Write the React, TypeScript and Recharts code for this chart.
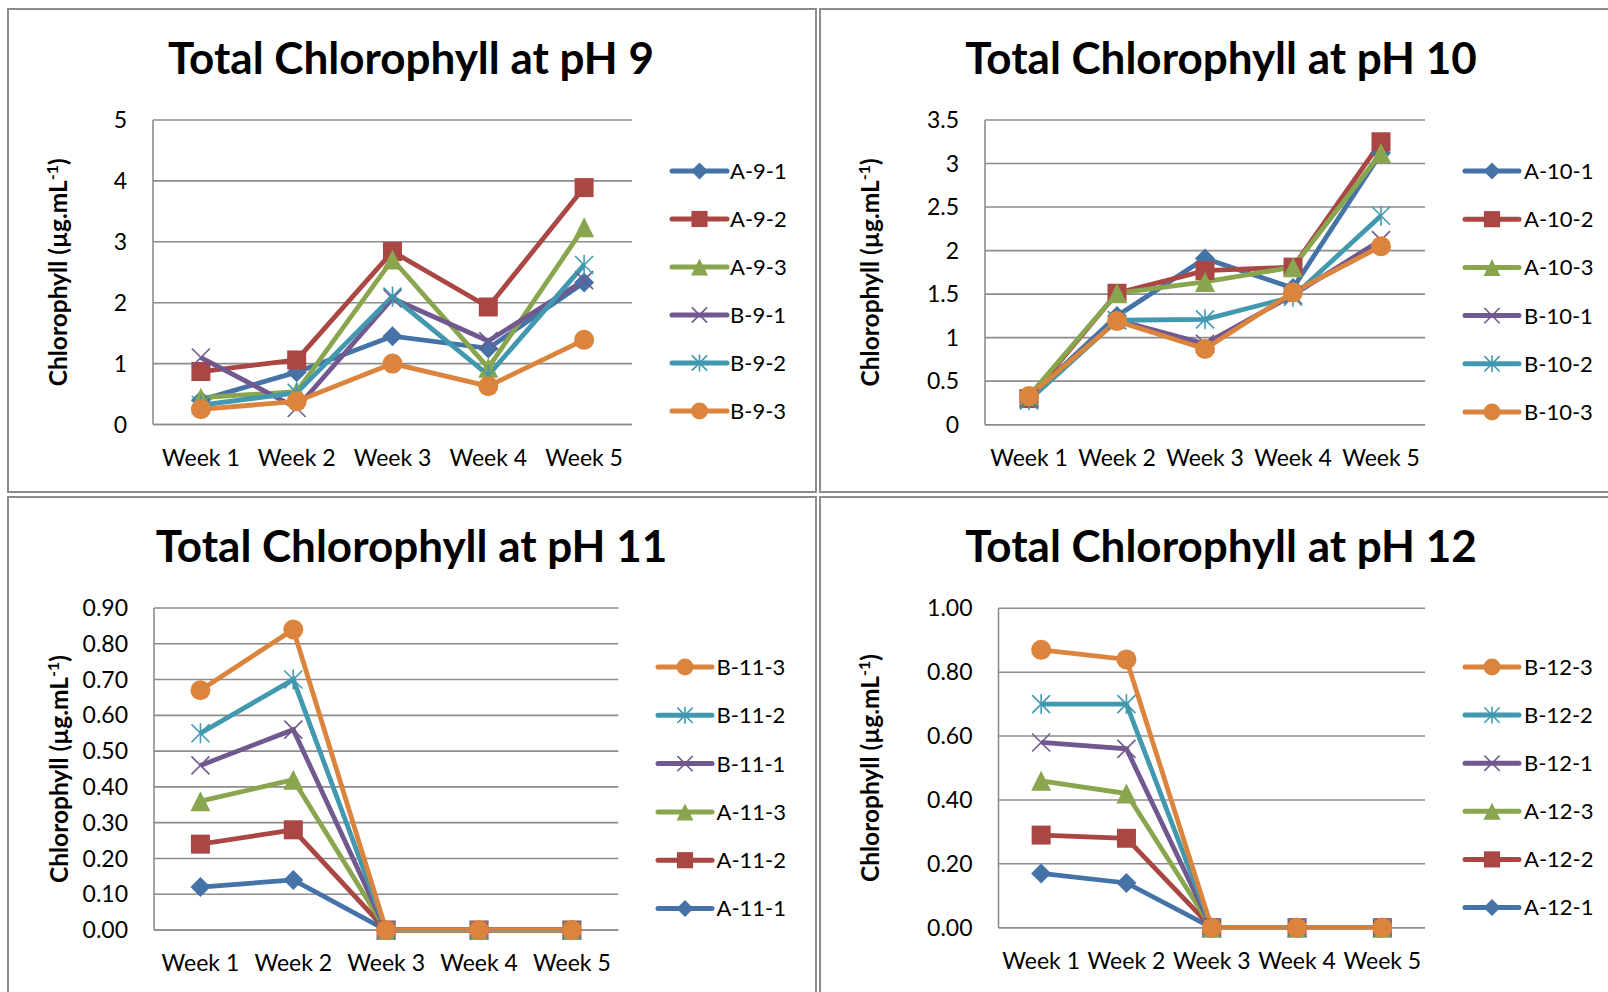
import React from 'react';
import { LineChart, Line, XAxis, YAxis, CartesianGrid, Legend } from 'recharts';

const WEEKS = ['Week 1', 'Week 2', 'Week 3', 'Week 4', 'Week 5'];

// pH 9
const A_9_1 = [0.40, 0.86, 1.45, 1.25, 2.33];
const A_9_2 = [0.87, 1.06, 2.84, 1.93, 3.89];
const A_9_3 = [0.44, 0.54, 2.71, 0.93, 3.24];
const B_9_1 = [1.10, 0.27, 2.07, 1.37, 2.37];
const B_9_2 = [0.32, 0.52, 2.10, 0.81, 2.62];
const B_9_3 = [0.25, 0.38, 1.00, 0.63, 1.39];

// pH 10
const A_10_1 = [0.31, 1.25, 1.91, 1.57, 3.12];
const A_10_2 = [0.30, 1.51, 1.77, 1.81, 3.25];
const A_10_3 = [0.33, 1.51, 1.64, 1.81, 3.12];
const B_10_1 = [0.30, 1.20, 0.93, 1.49, 2.12];
const B_10_2 = [0.28, 1.20, 1.21, 1.47, 2.40];
const B_10_3 = [0.33, 1.19, 0.87, 1.52, 2.05];

// pH 11
const A_11_1 = [0.12, 0.14, 0, 0, 0];
const A_11_2 = [0.24, 0.28, 0, 0, 0];
const A_11_3 = [0.36, 0.42, 0, 0, 0];
const B_11_1 = [0.46, 0.56, 0, 0, 0];
const B_11_2 = [0.55, 0.70, 0, 0, 0];
const B_11_3 = [0.67, 0.84, 0, 0, 0];

// pH 12
const A_12_1 = [0.17, 0.14, 0, 0, 0];
const A_12_2 = [0.29, 0.28, 0, 0, 0];
const A_12_3 = [0.46, 0.42, 0, 0, 0];
const B_12_1 = [0.58, 0.56, 0, 0, 0];
const B_12_2 = [0.70, 0.70, 0, 0, 0];
const B_12_3 = [0.87, 0.84, 0, 0, 0];

const Y_TICKS_9 = [0, 1, 2, 3, 4, 5];
const Y_TICKS_10 = [0, 0.5, 1, 1.5, 2, 2.5, 3, 3.5];
const Y_TICKS_11 = [0, 0.1, 0.2, 0.3, 0.4, 0.5, 0.6, 0.7, 0.8, 0.9];
const Y_TICKS_12 = [0, 0.2, 0.4, 0.6, 0.8, 1.0];

const FONT = 'Lato, "Liberation Sans", sans-serif';
const GRID = '#8c8c8c';

const STYLES = [
  { marker: 'diamond', color: '#4572A7' },
  { marker: 'square', color: '#AA4643' },
  { marker: 'triangle', color: '#89A54E' },
  { marker: 'x', color: '#71588F' },
  { marker: 'star', color: '#4198AF' },
  { marker: 'circle', color: '#DB843D' },
];

function makeSeries(ph: number, arrs: number[][]) {
  const names = [`A-${ph}-1`, `A-${ph}-2`, `A-${ph}-3`, `B-${ph}-1`, `B-${ph}-2`, `B-${ph}-3`];
  return names.map((name, i) => ({ name, values: arrs[i], ...STYLES[i] }));
}

function buildData(series: any[]) {
  return WEEKS.map((w, i) => {
    const row: any = { week: w };
    series.forEach((s) => {
      row[s.name] = s.values[i];
    });
    return row;
  });
}

function Marker({ shape, cx, cy, color, size }: any) {
  const h = size / 2;
  switch (shape) {
    case 'diamond':
      return <polygon points={`${cx},${cy - h} ${cx + h},${cy} ${cx},${cy + h} ${cx - h},${cy}`} fill={color} />;
    case 'square':
      return <rect x={cx - h * 0.95} y={cy - h * 0.95} width={size * 0.95} height={size * 0.95} fill={color} />;
    case 'triangle':
      return <polygon points={`${cx},${cy - h} ${cx + h},${cy + h} ${cx - h},${cy + h}`} fill={color} />;
    case 'x':
      return (
        <g stroke={color} strokeWidth={1.6}>
          <line x1={cx - h * 0.9} y1={cy - h * 0.9} x2={cx + h * 0.9} y2={cy + h * 0.9} />
          <line x1={cx - h * 0.9} y1={cy + h * 0.9} x2={cx + h * 0.9} y2={cy - h * 0.9} />
        </g>
      );
    case 'star':
      return (
        <g stroke={color} strokeWidth={1.6}>
          <line x1={cx - h * 0.9} y1={cy - h * 0.9} x2={cx + h * 0.9} y2={cy + h * 0.9} />
          <line x1={cx - h * 0.9} y1={cy + h * 0.9} x2={cx + h * 0.9} y2={cy - h * 0.9} />
          <line x1={cx} y1={cy - h} x2={cx} y2={cy + h} />
        </g>
      );
    default:
      return <circle cx={cx} cy={cy} r={h} fill={color} />;
  }
}

function YLabel({ px, py }: any) {
  return (
    <text
      x={px}
      y={py}
      transform={`rotate(-90 ${px} ${py})`}
      textAnchor="middle"
      fontFamily={FONT}
      fontWeight={700}
      fontSize={24.5}
      fill="#000"
    >
      Chlorophyll (µg.mL<tspan dy={-9} fontSize={16}>-1</tspan>
      <tspan dy={9}>)</tspan>
    </text>
  );
}

const SERIES_9 = makeSeries(9, [A_9_1, A_9_2, A_9_3, B_9_1, B_9_2, B_9_3]);
const SERIES_10 = makeSeries(10, [A_10_1, A_10_2, A_10_3, B_10_1, B_10_2, B_10_3]);
const SERIES_11 = makeSeries(11, [A_11_1, A_11_2, A_11_3, B_11_1, B_11_2, B_11_3]);
const SERIES_12 = makeSeries(12, [A_12_1, A_12_2, A_12_3, B_12_1, B_12_2, B_12_3]);

const PANELS = [
  {
    key: 'p9',
    title: 'Total Chlorophyll at pH 9',
    box: { left: 7, top: 8, width: 810, height: 485 },
    plot: { l: 153, t: 120, r: 632, b: 424.5 },
    titleAt: { x: 411, y: 74 },
    yLabelX: 66.5,
    domain: [0, 5],
    ticks: Y_TICKS_9,
    fmt: (v: number) => String(v),
    series: SERIES_9,
    legendOrder: ['A-9-1', 'A-9-2', 'A-9-3', 'B-9-1', 'B-9-2', 'B-9-3'],
    legend: { x0: 672, x1: 727, tx: 730, y0: 170.5, dy: 48 },
  },
  {
    key: 'p10',
    title: 'Total Chlorophyll at pH 10',
    box: { left: 819, top: 8, width: 800, height: 485 },
    plot: { l: 985, t: 120, r: 1425, b: 424.7 },
    titleAt: { x: 1221, y: 74 },
    yLabelX: 879,
    domain: [0, 3.5],
    ticks: Y_TICKS_10,
    fmt: (v: number) => String(v),
    series: SERIES_10,
    legendOrder: ['A-10-1', 'A-10-2', 'A-10-3', 'B-10-1', 'B-10-2', 'B-10-3'],
    legend: { x0: 1465, x1: 1519, tx: 1524, y0: 170.7, dy: 48.2 },
  },
  {
    key: 'p11',
    title: 'Total Chlorophyll at pH 11',
    box: { left: 7, top: 496, width: 810, height: 500 },
    plot: { l: 154, t: 608, r: 618.3, b: 930 },
    titleAt: { x: 411.5, y: 562 },
    yLabelX: 68,
    domain: [0, 0.9],
    ticks: Y_TICKS_11,
    fmt: (v: number) => v.toFixed(2),
    series: SERIES_11,
    legendOrder: ['B-11-3', 'B-11-2', 'B-11-1', 'A-11-3', 'A-11-2', 'A-11-1'],
    legend: { x0: 658, x1: 712, tx: 716.5, y0: 666.7, dy: 48.3 },
  },
  {
    key: 'p12',
    title: 'Total Chlorophyll at pH 12',
    box: { left: 819, top: 496, width: 800, height: 500 },
    plot: { l: 998.5, t: 608.3, r: 1425, b: 927.7 },
    titleAt: { x: 1221, y: 562 },
    yLabelX: 879,
    domain: [0, 1],
    ticks: Y_TICKS_12,
    fmt: (v: number) => v.toFixed(2),
    series: SERIES_12,
    legendOrder: ['B-12-3', 'B-12-2', 'B-12-1', 'A-12-3', 'A-12-2', 'A-12-1'],
    legend: { x0: 1465, x1: 1519, tx: 1524, y0: 666.7, dy: 48.1 },
  },
];

const BORDER = 2;
const YW = 80;
const XH = 40;

function Panel({ cfg }: any) {
  const ox = cfg.box.left + BORDER;
  const oy = cfg.box.top + BORDER;
  const W = cfg.box.width - 2 * BORDER;
  const H = cfg.box.height - 2 * BORDER;
  const p = cfg.plot;
  const margin = {
    left: p.l - ox - YW,
    top: p.t - oy,
    right: ox + W - p.r,
    bottom: oy + H - p.b - XH,
  };
  const pad = (p.r - p.l) / 10;
  const data = buildData(cfg.series);
  const lg = cfg.legend;
  const legendPad = 14;
  const legendW = 150;
  const legendH = lg.dy * 5 + legendPad * 2;

  const renderLegend = (props: any) => {
    const payload = props.payload || [];
    return (
      <svg width={legendW} height={legendH} style={{ display: 'block' }}>
        {cfg.legendOrder.map((name: string, i: number) => {
          const entry = payload.find((e: any) => e.value === name || e.dataKey === name);
          const s = cfg.series.find((x: any) => x.name === name);
          const color = entry ? entry.color : s.color;
          const y = legendPad + i * lg.dy;
          const x0 = 3;
          const x1 = lg.x1 - lg.x0 + 3;
          const tx = lg.tx - lg.x0 + 3;
          return (
            <g key={name}>
              <line x1={x0} y1={y} x2={x1} y2={y} stroke={color} strokeWidth={5} strokeLinecap="round" />
              <Marker shape={s.marker} cx={(x0 + x1) / 2} cy={y} color={color} size={17} />
              <text x={tx} y={y} dy="0.36em" fontFamily={FONT} fontSize={22} fill="#000">
                {name}
              </text>
            </g>
          );
        })}
      </svg>
    );
  };

  return (
    <div
      style={{
        position: 'absolute',
        left: cfg.box.left,
        top: cfg.box.top,
        width: W,
        height: H,
        border: `${BORDER}px solid ${GRID}`,
        background: '#fff',
      }}
    >
      <div style={{ position: 'absolute', left: 0, top: 0 }}>
        <LineChart width={W} height={H} data={data} margin={margin}>
          <CartesianGrid vertical={false} stroke={GRID} strokeWidth={1.6} />
          <XAxis
            dataKey="week"
            type="category"
            padding={{ left: pad, right: pad }}
            interval={0}
            height={XH}
            tickLine={false}
            tickSize={0}
            tickMargin={25}
            axisLine={{ stroke: GRID, strokeWidth: 1.6 }}
            tick={{ fill: '#000', fontSize: 23, fontFamily: FONT }}
          />
          <YAxis
            type="number"
            domain={cfg.domain}
            ticks={cfg.ticks}
            interval={0}
            width={YW}
            tickFormatter={cfg.fmt}
            tickLine={false}
            tickSize={0}
            tickMargin={26}
            axisLine={{ stroke: GRID, strokeWidth: 1.6 }}
            tick={{ fill: '#000', fontSize: 23, fontFamily: FONT }}
            label={<YLabel px={cfg.yLabelX - ox} py={(p.t + p.b) / 2 - oy} />}
          />
          <Legend
            layout="vertical"
            align="center"
            verticalAlign="middle"
            content={renderLegend}
            wrapperStyle={{
              left: lg.x0 - ox - 3,
              top: lg.y0 - oy - legendPad,
              width: legendW,
              height: legendH,
            }}
          />
          {cfg.series.map((s: any) => (
            <Line
              key={s.name}
              type="linear"
              dataKey={s.name}
              name={s.name}
              stroke={s.color}
              strokeWidth={4.8}
              isAnimationActive={false}
              activeDot={false}
              dot={(dp: any) => (
                <Marker
                  key={`${s.name}-${dp.index}`}
                  shape={s.marker}
                  cx={dp.cx}
                  cy={dp.cy}
                  color={s.color}
                  size={20}
                />
              )}
            />
          ))}
        </LineChart>
      </div>
      <svg
        width={W}
        height={H}
        style={{ position: 'absolute', left: 0, top: 0, pointerEvents: 'none' }}
      >
        <text
          x={cfg.titleAt.x - ox}
          y={cfg.titleAt.y - oy}
          textAnchor="middle"
          fontFamily={FONT}
          fontWeight={700}
          fontSize={44}
          fill="#000"
        >
          {cfg.title}
        </text>
      </svg>
    </div>
  );
}

export default function App() {
  return (
    <div
      style={{
        position: 'absolute',
        left: 0,
        top: 0,
        width: 1608,
        height: 992,
        overflow: 'hidden',
        background: '#fff',
      }}
    >
      {PANELS.map((cfg) => (
        <Panel key={cfg.key} cfg={cfg} />
      ))}
    </div>
  );
}
